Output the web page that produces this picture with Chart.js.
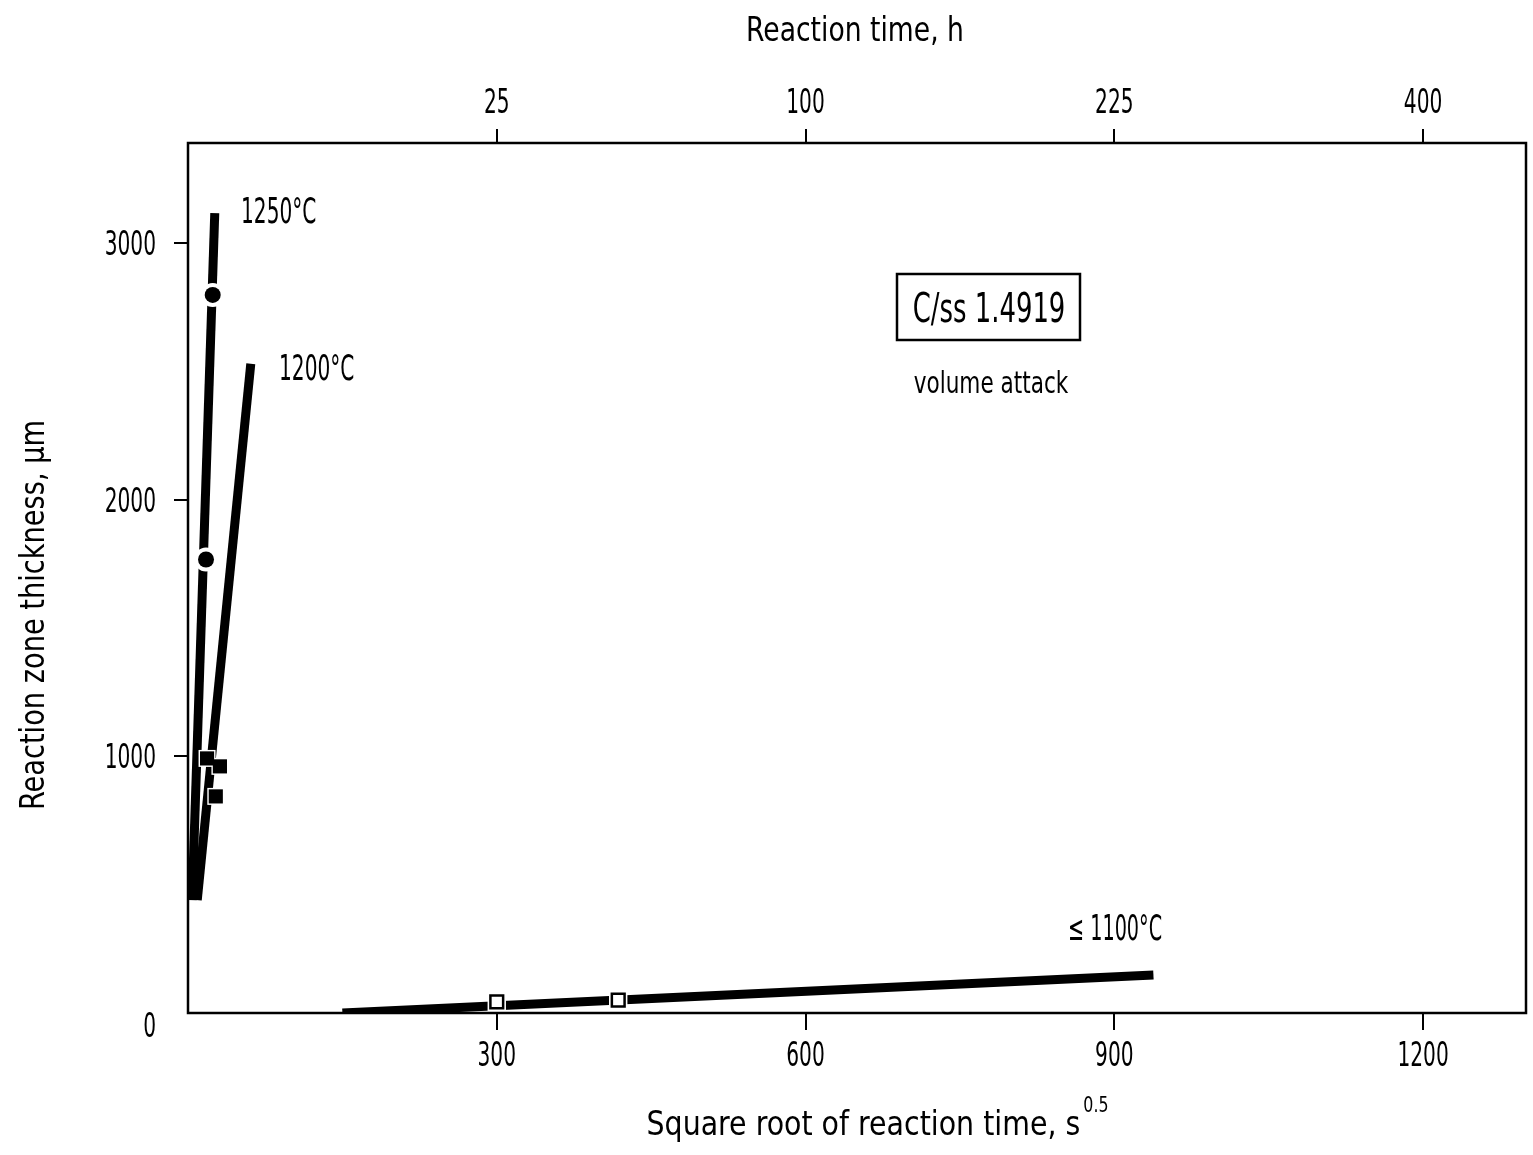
<!DOCTYPE html>
<html>
<head>
<meta charset="utf-8">
<script src="https://cdn.jsdelivr.net/npm/chart.js@4"></script>
<style>
  html, body { margin: 0; padding: 0; background: #fff; overflow: hidden; }
  canvas { display: block; }
</style>
</head>
<body>
<canvas id="grafico" width="1533" height="1155"></canvas>
<script>
// fitted lines (sqrt time in s^0.5, thickness in µm)
const fit1250 = [{ x: 4, y: 440 }, { x: 26, y: 3117 }];
const fit1200 = [{ x: 9, y: 440 }, { x: 61, y: 2530 }];
const fit1100 = [{ x: 150, y: 0 }, { x: 938, y: 148 }];

// measured points
const puntos1250 = [{ x: 24, y: 2798 }, { x: 17.5, y: 1767 }];
const puntos1200 = [{ x: 18.5, y: 992 }, { x: 31, y: 961 }, { x: 27, y: 844 }];
const puntos1100 = [{ x: 300, y: 43 }, { x: 418, y: 50 }];

const xTicks = [300, 600, 900, 1200];
const topTicks = [300, 600, 900, 1200];
const topTickLabels = ['25', '100', '225', '400'];
const yTicks = [0, 1000, 2000, 3000];

const fuente = "'DejaVu Sans Condensed', 'Liberation Sans Narrow', 'DejaVu Sans', sans-serif";
Chart.defaults.font.family = fuente;
Chart.defaults.color = '#000';

// the original lettering is a very narrow font, so squeeze the text horizontally
function texto(ctx, t, x, y, size, sx, align) {
    ctx.save();
    ctx.translate(x, y);
    ctx.scale(sx, 1);
    ctx.font = size + 'px ' + fuente;
    ctx.textAlign = align || 'left';
    ctx.textBaseline = 'alphabetic';
    ctx.fillText(t, 0, 0);
    ctx.restore();
}
function ancho(ctx, t, size, sx) {
    ctx.save();
    ctx.font = size + 'px ' + fuente;
    const w = ctx.measureText(t).width * sx;
    ctx.restore();
    return w;
}

function linea(data) {
    return { data: data, showLine: true, borderColor: '#000', borderWidth: 9,
        pointRadius: 0, borderCapStyle: 'butt', clip: 0, order: 2 };
}
function halo(data, estilo, r) {
    return { data: data, pointStyle: estilo, pointRadius: r, pointBackgroundColor: '#fff',
        pointBorderWidth: 0, pointBorderColor: '#fff', order: 1 };
}

const tickSize = 33, tickSx = 0.68;

const marco = {
    id: 'marco',
    afterDatasetsDraw(chart) {
        const a = chart.chartArea;
        const ctx = chart.ctx;
        ctx.save();
        ctx.strokeStyle = '#000';
        ctx.lineWidth = 2.5;
        ctx.strokeRect(a.left, a.top, a.right - a.left, a.bottom - a.top);
        ctx.restore();
    },
    afterDraw(chart) {
        const ctx = chart.ctx;
        const a = chart.chartArea;
        const sx = chart.scales.x, st = chart.scales.x2, sy = chart.scales.y;
        ctx.save();
        ctx.fillStyle = '#000';

        // tick labels
        xTicks.forEach(v => texto(ctx, String(v), sx.getPixelForValue(v), a.bottom + 53, tickSize, tickSx, 'center'));
        topTicks.forEach((v, i) => texto(ctx, topTickLabels[i], st.getPixelForValue(v), 113, tickSize, tickSx, 'center'));
        yTicks.forEach(v => {
            const off = v === 0 ? 24 : 12;
            texto(ctx, String(v), a.left - 32, sy.getPixelForValue(v) + off, tickSize, tickSx, 'right');
        });

        // axis titles
        texto(ctx, 'Reaction time, h', 855, 41, 34, 0.87, 'center');

        const base = 'Square root of reaction time, s';
        const wBase = ancho(ctx, base, 34, 0.93);
        const wSup = ancho(ctx, '0.5', 22, 0.8);
        const x0 = 876 - (wBase + wSup) / 2;
        texto(ctx, base, x0, 1135, 34, 0.93, 'left');
        texto(ctx, '0.5', x0 + wBase + 3, 1112, 22, 0.8, 'left');

        ctx.save();
        ctx.translate(44, 615);
        ctx.rotate(-Math.PI / 2);
        texto(ctx, 'Reaction zone thickness, µm', 0, 0, 34, 0.89, 'center');
        ctx.restore();

        // curve labels
        texto(ctx, '1250°C', 241, 223, 35, 0.64, 'left');
        texto(ctx, '1200°C', 279, 380, 35, 0.64, 'left');
        texto(ctx, '≤ 1100°C', 1068, 940, 35, 0.61, 'left');

        // box
        ctx.strokeStyle = '#000';
        ctx.lineWidth = 2.5;
        ctx.strokeRect(897, 274, 183, 66);
        texto(ctx, 'C/ss 1.4919', 989, 322, 40, 0.72, 'center');
        texto(ctx, 'volume attack', 991, 393, 30, 0.8, 'center');
        ctx.restore();
    }
};

const sinTexto = 'rgba(0,0,0,0)';

new Chart(document.getElementById('grafico'), {
    type: 'scatter',
    data: {
        datasets: [
            { data: puntos1250, pointStyle: 'circle', pointRadius: 8, pointBackgroundColor: '#000',
              pointBorderWidth: 0, order: 0 },
            { data: puntos1200, pointStyle: 'rect', pointRadius: 10, pointBackgroundColor: '#000',
              pointBorderWidth: 0, order: 0 },
            { data: puntos1100, pointStyle: 'rect', pointRadius: 9, pointBackgroundColor: '#fff',
              pointBorderColor: '#000', pointBorderWidth: 2.5, order: 0 },
            halo(puntos1250, 'circle', 12),
            halo(puntos1200, 'rect', 12),
            halo(puntos1100, 'rect', 13),
            linea(fit1250),
            linea(fit1200),
            linea(fit1100)
        ]
    },
    options: {
        responsive: false,
        animation: false,
        layout: { autoPadding: false, padding: { left: 0, right: 7, top: 0, bottom: 0 } },
        plugins: { legend: { display: false }, tooltip: { enabled: false } },
        scales: {
            x: {
                type: 'linear', position: 'bottom', min: 0, max: 1300,
                afterBuildTicks: s => { s.ticks = xTicks.map(v => ({ value: v })); },
                afterFit: s => { s.height = 142; s.paddingLeft = 0; s.paddingRight = 0; },
                grid: { drawOnChartArea: false, tickLength: 17, color: '#000', lineWidth: 2 },
                border: { display: false },
                ticks: { font: { size: 20 }, color: sinTexto, maxRotation: 0 }
            },
            x2: {
                type: 'linear', position: 'top', min: 0, max: 1300,
                afterBuildTicks: s => { s.ticks = topTicks.map(v => ({ value: v })); },
                afterFit: s => { s.height = 143; s.paddingLeft = 0; s.paddingRight = 0; },
                grid: { drawOnChartArea: false, tickLength: 14, color: '#000', lineWidth: 2 },
                border: { display: false },
                ticks: { font: { size: 20 }, color: sinTexto, maxRotation: 0 }
            },
            y: {
                type: 'linear', position: 'left', min: 0, max: 3390,
                afterBuildTicks: s => { s.ticks = yTicks.map(v => ({ value: v })); },
                afterFit: s => { s.width = 188; s.paddingTop = 0; s.paddingBottom = 0; },
                grid: {
                    drawOnChartArea: false, tickLength: 14, lineWidth: 2,
                    color: c => (c.tick && c.tick.value === 0) ? sinTexto : '#000'
                },
                border: { display: false },
                ticks: { font: { size: 20 }, color: sinTexto }
            }
        }
    },
    plugins: [marco]
});
</script>
</body>
</html>
